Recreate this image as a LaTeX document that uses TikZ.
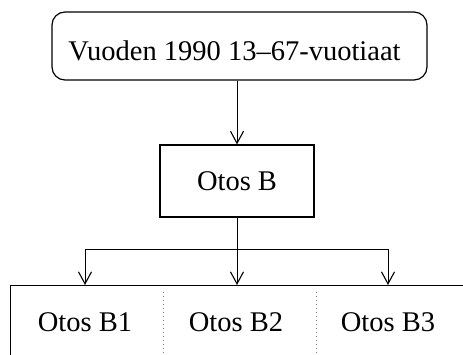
\documentclass[tikz,border=0pt]{standalone}
\usepackage{fontspec}
\setmainfont{Liberation Serif}
\usetikzlibrary{arrows.meta}

\begin{document}
\begin{tikzpicture}[
	x=1pt, y=-1pt,
	every node/.style={
		font=\fontsize{28.5}{32}\selectfont, inner sep=0pt
	},
	box/.style={draw, line width=1.2pt},
	link/.style={line width=0.8pt, -{Straight Barb[length=12pt, width=13pt, line width=1.1pt]}},
	divider/.style={gray, dash pattern=on 1pt off 3pt, line width=0.8pt}
	]
	\useasboundingbox (0,0) rectangle (463,354);
	
	% Top: population
	\node (pop) [box, rounded corners=13pt, minimum width=375, minimum height=68] at (239.5,46) {};
	\node (poptext) at (234.5,51) {Vuoden 1990 13--67-vuotiaat};
	
	% Sample B
	\node (sample) [box, minimum width=154, minimum height=72] at (237,181) {Otos B};
	
	% Sub-samples (box runs past the right and bottom edges)
	\node (subs) [box, anchor=north west, minimum width=500, minimum height=120] at (10,285) {};
	\node (b1) at (85,322) {Otos B1};
	\node (b2) at (236,322) {Otos B2};
	\node (b3) at (388,322) {Otos B3};
	
	\draw[divider] (163,292) -- (163,354);
	\draw[divider] (316,292) -- (316,354);
	
	% Connectors
	\coordinate (split) at (237,249);
	\draw[link] (sample.north |- pop.south) -- (sample.north);
	\draw[line width=0.8pt] (sample.south) -- (split);
	\draw[line width=0.8pt] (b1 |- split) -- (b3 |- split);
	\draw[link] (b1 |- split) -- (b1 |- subs.north);
	\draw[link] (split) -- (split |- subs.north);
	\draw[link] (b3 |- split) -- (b3 |- subs.north);
	
\end{tikzpicture}
\end{document}
